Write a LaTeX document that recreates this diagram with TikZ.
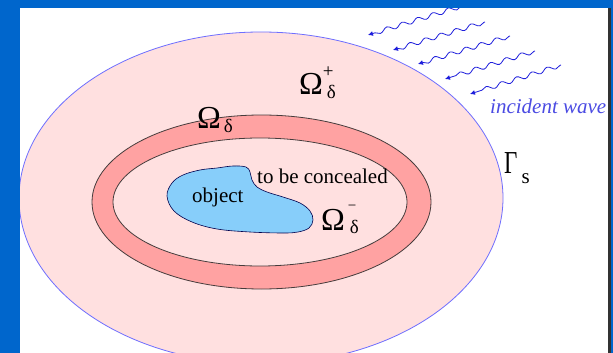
\documentclass[tikz,border=0pt]{standalone}
\usepackage{fontspec}
\setmainfont{Liberation Serif}
\usetikzlibrary{arrows.meta,decorations.pathmorphing}
\definecolor{frameblue}{RGB}{0,102,204}
\definecolor{bgpink}{RGB}{255,224,224}
\definecolor{ringred}{RGB}{255,162,162}
\definecolor{objblue}{RGB}{135,206,250}
\definecolor{edgeblue}{RGB}{110,110,255}
\definecolor{wavecol}{RGB}{30,30,220}
\definecolor{ringedge}{RGB}{70,60,60}
\newcommand{\omf}{\fontsize{32}{32}\selectfont}
\newcommand{\subf}{\fontsize{19}{19}\selectfont}
\newcommand{\txtf}{\fontsize{21}{21}\selectfont}
\tikzset{
  lab/.style={inner sep=0pt, anchor=base west, text=black},
  wavearrow/.style={wavecol, line width=0.8pt,
    decorate, decoration={snake, amplitude=2.2pt, segment length=16pt, pre length=1pt, post length=5pt},
    -{Latex[length=5pt,width=5pt]}},
}
\begin{document}
\begin{tikzpicture}[x=1pt,y=-1pt]
\useasboundingbox (0,0) rectangle (613,353);
\fill[white] (0,0) rectangle (613,353);
% outer domain
\draw[edgeblue, fill=bgpink, line width=0.8pt] (261,198) ellipse [x radius=242, y radius=166];
% ring
\draw[ringedge, fill=ringred, line width=0.8pt] (261.5,202) ellipse [x radius=169.5, y radius=87];
\draw[ringedge, fill=bgpink, line width=0.8pt] (260,202) ellipse [x radius=147, y radius=64];
% object
\draw[black!70!blue, fill=objblue, line width=0.6pt] plot[smooth cycle, tension=0.6] coordinates {
 (167,196) (172,183) (183,175) (200,170) (217,168) (233,166) (246,167) (250,172) (252,180)
 (257,187) (267,192) (283,197) (300,203) (310,211) (313,220) (309,228) (298,232) (283,233)
 (250,232) (217,229) (192,222) (174,211)};
% labels
\node[lab] (object) at (192,202) {\txtf object};
\node[lab] (conceal) at (257,183) {\txtf to be concealed};
\node[lab] (omplus) at (299,94) {{\omf Ω}\kern0pt\rlap{\raisebox{17pt}{\subf +}}\kern4pt\raisebox{-5pt}{\subf δ}};
\node[lab] (omdelta) at (197,128) {{\omf Ω}\kern3pt\raisebox{-5pt}{\subf δ}};
\node[lab] (omminus) at (321,230) {{\omf Ω}\kern3pt\rlap{\raisebox{20pt}{\fontsize{15}{15}\selectfont −}}\kern2pt\raisebox{-3pt}{\subf δ}};
\node[lab] (gammas) at (504,173) {\scalebox{0.72}[1]{\fontsize{32}{32}\selectfont Γ}\kern4pt\raisebox{-10pt}{\fontsize{21}{21}\selectfont s}};
\node[inner sep=0pt, anchor=base west, text=wavecol!80!white] (incident) at (490,113) {\fontsize{21}{21}\selectfont\itshape incident wave};
% incident wave arrows
\foreach \i/\sx/\sy/\ex/\ey in {1/462/6/368/35, 2/485/22/393/50, 3/510/36/418/64, 4/535/51/445/79, 5/561/65/470/94}{
  \coordinate (s\i) at (\sx,\sy);
  \coordinate (e\i) at (\ex,\ey);
  \draw[wavearrow] (s\i) -- (e\i);
}
% frame
\fill[frameblue] (0,0) rectangle (613,8);
\fill[frameblue] (0,0) rectangle (20,353);
\fill[frameblue] (611,0) rectangle (613,353);
\fill[black!80] (608,8) rectangle (611,353);
\end{tikzpicture}
\end{document}
